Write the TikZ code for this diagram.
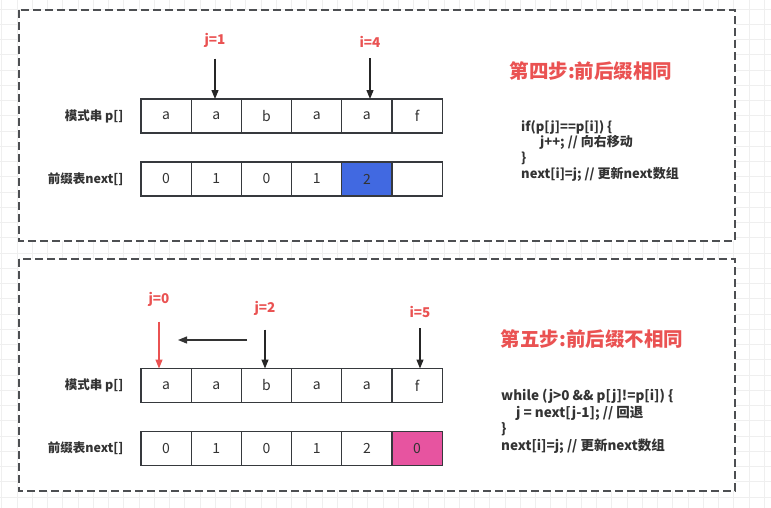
\documentclass[tikz,border=0pt]{standalone}
\usepackage{fontspec}
\setmainfont{Noto Sans CJK SC}
\usetikzlibrary{arrows.meta,positioning}

\definecolor{stepred}{HTML}{EA5252}
\definecolor{darktext}{HTML}{333333}
\definecolor{cellline}{HTML}{36393D}
\definecolor{ptrline}{HTML}{262626}
\definecolor{frameline}{HTML}{4D4F52}
\definecolor{gridline}{HTML}{EFEFEF}
\definecolor{matchblue}{HTML}{4169E1}
\definecolor{failpink}{HTML}{E754A0}

\begin{document}
\begin{tikzpicture}[
  x=1pt, y=-1pt,
  cell/.style={rectangle, draw=cellline, line width=1.2pt, minimum width=50.2pt, minimum height=34pt,
    inner sep=0pt, outer sep=0pt, text=darktext, font=\fontsize{14}{16}\selectfont},
  rowlabel/.style={text=darktext, font=\bfseries\fontsize{12.5}{14}\selectfont},
  ptrlabel/.style={text=stepred, font=\bfseries\fontsize{13.5}{15}\selectfont},
  ptr/.style={draw=ptrline, line width=1.2pt, -{Triangle[length=9pt,width=7pt]}},
  frame/.style={draw=frameline, dash pattern=on 8pt off 4pt, line width=1.5pt, fill=white},
  title/.style={text=stepred, font=\bfseries\fontsize{19.5}{22}\selectfont},
  code/.style={text=darktext, align=left, anchor=north west, inner sep=0pt, font=\bfseries\fontsize{13}{15.7}\selectfont},
]
  \useasboundingbox (0,0) rectangle (771,507);

  % background grid
  \begin{scope}
    \clip (0,0) rectangle (771,507);
    \draw[gridline, line width=0.8pt, step=15.25pt, shift={(1.75pt,-9pt)}] (-20pt,20pt) grid (780pt,-510pt);
  \end{scope}

  \draw[frame] (19,10) rectangle (735,241);
  \draw[frame] (19,259) rectangle (735,491);

  % step 4
  \node[cell] (pa1) at (166.1,116) {a};
  \node[cell, right=0pt of pa1] (pa2) {a};
  \node[cell, right=0pt of pa2] (pa3) {b};
  \node[cell, right=0pt of pa3] (pa4) {a};
  \node[cell, right=0pt of pa4] (pa5) {a};
  \node[cell, right=0pt of pa5] (pa6) {f};
  \node[cell, below=29pt of pa1] (na1) {0};
  \node[cell, right=0pt of na1] (na2) {1};
  \node[cell, right=0pt of na2] (na3) {0};
  \node[cell, right=0pt of na3] (na4) {1};
  \node[cell, right=0pt of na4, fill=matchblue] (na5) {2};
  \node[cell, right=0pt of na5] (na6) {};
  \node[rowlabel, left=14pt of pa1] (pla) {模式串 p[]};
  \node[rowlabel, left=14pt of na1] (nla) {前缀表next[]};

  \node[ptrlabel] (j1) at (215,40) {j=1};
  \node[ptrlabel] (i4) at (370,42) {i=4};
  \draw[ptr, shorten <=8pt] (j1) -- (j1 |- pa2.north);
  \draw[ptr, shorten <=7pt] (i4) -- (i4 |- pa5.north);

  \node[title] (t4) at (591,71) {第四步:前后缀相同};
  \node[code] (c4) at (521,120) {if(p[j]==p[i]) \{\\\hspace*{19pt}j++; // 向右移动\\\}\\next[i]=j; // 更新next数组};

  % step 5
  \node[cell] (pb1) at (166.1,385.5) {a};
  \node[cell, right=0pt of pb1] (pb2) {a};
  \node[cell, right=0pt of pb2] (pb3) {b};
  \node[cell, right=0pt of pb3] (pb4) {a};
  \node[cell, right=0pt of pb4] (pb5) {a};
  \node[cell, right=0pt of pb5] (pb6) {f};
  \node[cell, below=29pt of pb1] (nb1) {0};
  \node[cell, right=0pt of nb1] (nb2) {1};
  \node[cell, right=0pt of nb2] (nb3) {0};
  \node[cell, right=0pt of nb3] (nb4) {1};
  \node[cell, right=0pt of nb4] (nb5) {2};
  \node[cell, right=0pt of nb5, fill=failpink] (nb6) {0};
  \node[rowlabel, left=14pt of pb1] (plb) {模式串 p[]};
  \node[rowlabel, left=14pt of nb1] (nlb) {前缀表next[]};

  \node[ptrlabel] (j0) at (159,299) {j=0};
  \node[ptrlabel] (j2) at (265,308) {j=2};
  \node[ptrlabel] (i5) at (420,312) {i=5};
  \draw[ptr, draw=stepred, shorten <=12pt] (j0) -- (j0 |- pb1.north);
  \draw[ptr, shorten <=11pt] (j2) -- (j2 |- pb3.north);
  \draw[ptr, shorten <=7pt] (i5) -- (i5 |- pb6.north);
  \coordinate (backfrom) at (247,340);
  \coordinate (backto) at (178,340);
  \draw[ptr, draw=darktext] (backfrom) -- (backto);

  \node[title] (t5) at (592,339) {第五步:前后缀不相同};
  \node[code, font=\bfseries\fontsize{13.5}{16.7}\selectfont] (c5) at (501,389) {while (j>0 \&\& p[j]!=p[i]) \{\\\hspace*{15pt}j = next[j-1]; // 回退\\\}\\next[i]=j; // 更新next数组};
\end{tikzpicture}
\end{document}
